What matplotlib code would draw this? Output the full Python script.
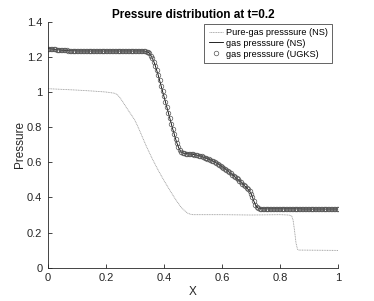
import numpy as np
import matplotlib
matplotlib.use('Agg')
import matplotlib.pyplot as plt

plt.rcParams['font.family'] = ['Liberation Sans', 'DejaVu Sans']

# gas pressure on the cell grid (NS line and UGKS markers share it)
x_gas = np.linspace(0, 1, 201)
p_gas = [
    1.250, 1.249, 1.248, 1.247, 1.246, 1.245, 1.244, 1.243, 1.242, 1.241,
    1.240, 1.240, 1.239, 1.239, 1.238, 1.238, 1.237, 1.237, 1.237, 1.237,
    1.236,
    1.236, 1.236, 1.236, 1.236, 1.236, 1.236, 1.236, 1.236, 1.236, 1.236,
    1.236, 1.236, 1.236, 1.236, 1.236, 1.236, 1.236, 1.236, 1.236, 1.236,
    1.236, 1.236, 1.236, 1.236, 1.236, 1.236, 1.236, 1.236, 1.236, 1.236,
    1.236, 1.236, 1.236, 1.236, 1.236, 1.236, 1.236, 1.236, 1.236, 1.236,
    1.236, 1.236, 1.236, 1.236, 1.236, 1.236,
    1.235, 1.233, 1.229, 1.222, 1.210, 1.195, 1.176, 1.153, 1.127, 1.099,
    1.069, 1.039, 1.008, 0.977, 0.946, 0.915, 0.884, 0.853, 0.822, 0.792,
    0.763, 0.735, 0.709, 0.687, 0.670, 0.659, 0.654, 0.652,
    0.651, 0.650, 0.649, 0.648, 0.647, 0.646, 0.645, 0.643, 0.641, 0.639,
    0.637, 0.634, 0.631, 0.628, 0.625, 0.622, 0.619, 0.615, 0.611, 0.607,
    0.603, 0.598, 0.593, 0.588, 0.582, 0.576, 0.570, 0.564, 0.558, 0.552,
    0.545, 0.538, 0.531, 0.524, 0.517, 0.510, 0.503, 0.495, 0.487, 0.479,
    0.471, 0.463, 0.455, 0.446, 0.436, 0.422, 0.402, 0.378, 0.358, 0.345,
    0.339, 0.337, 0.336, 0.336,
    0.335, 0.335, 0.335, 0.335, 0.335, 0.335, 0.335, 0.335, 0.335, 0.335,
    0.335, 0.335, 0.335, 0.335, 0.335, 0.335, 0.335, 0.335, 0.335, 0.335,
    0.335, 0.335, 0.335, 0.335, 0.335, 0.335, 0.334, 0.334, 0.334, 0.334,
    0.334, 0.334, 0.334, 0.334, 0.334, 0.334, 0.334, 0.334, 0.334, 0.334,
    0.334, 0.334, 0.334, 0.334, 0.334, 0.334, 0.334, 0.334, 0.334, 0.334,
    0.334, 0.334,
]

# pure-gas pressure (NS)
x_pure = [0.0, 0.05, 0.10, 0.15, 0.20, 0.23, 0.24, 0.25, 0.26, 0.27,
          0.28, 0.29, 0.30, 0.31, 0.32, 0.33, 0.34, 0.36, 0.38, 0.40,
          0.42, 0.44, 0.46, 0.48, 0.49, 0.50, 0.60, 0.70, 0.80, 0.83,
          0.84, 0.845, 0.85, 0.855, 0.86, 0.865, 1.0]
p_pure = [1.021, 1.017, 1.013, 1.008, 1.002, 0.995, 0.986, 0.966, 0.941, 0.915,
          0.890, 0.866, 0.840, 0.805, 0.767, 0.728, 0.690, 0.620, 0.556, 0.497,
          0.442, 0.389, 0.342, 0.312, 0.305, 0.302, 0.302, 0.300, 0.302, 0.300,
          0.295, 0.270, 0.210, 0.140, 0.105, 0.100, 0.098]

fig = plt.figure(figsize=(3.74, 3.01), dpi=100, facecolor='white')
ax = fig.add_axes([0.128, 0.111, 0.776, 0.815])

ax.plot(x_pure, p_pure, linestyle=(0, (1.2, 0.8)), color='#9a9a9a', lw=0.6,
        label='Pure-gas presssure (NS)')
ax.plot(x_gas, p_gas, '-', color='black', lw=0.6, label='gas presssure (NS)')
ax.plot(x_gas, p_gas, 'o', ms=3.3, mfc='none', mec='#555555', mew=0.5,
        label='gas presssure (UGKS)')

ax.set_xlim(0, 1)
ax.set_ylim(0, 1.4)
ax.set_xticks([0, 0.2, 0.4, 0.6, 0.8, 1])
ax.set_xticklabels(['0', '0.2', '0.4', '0.6', '0.8', '1'])
ax.set_yticks([0, 0.2, 0.4, 0.6, 0.8, 1, 1.2, 1.4])
ax.set_yticklabels(['0', '0.2', '0.4', '0.6', '0.8', '1', '1.2', '1.4'])

# matlab-ish axes: box off, inward ticks
for side in ['top', 'right']:
    ax.spines[side].set_visible(False)
for side in ['left', 'bottom']:
    ax.spines[side].set_color('#262626')
    ax.spines[side].set_linewidth(0.6)
ax.tick_params(direction='in', length=3, width=0.6, colors='#262626',
               labelsize=8, pad=4)

ax.set_xlabel('X', fontsize=8.5, color='#262626', labelpad=2)
ax.set_ylabel('Pressure', fontsize=8.5, color='#262626', labelpad=0.5)
ax.set_title('Pressure distribution at t=0.2', fontsize=8.5, fontweight='bold',
             color='black', pad=3)

leg = ax.legend(loc='upper right', bbox_to_anchor=(0.979, 0.994), fontsize=6.6,
                fancybox=False, framealpha=1, edgecolor='#262626',
                handlelength=1.6, handletextpad=0.3, borderpad=0.45,
                labelspacing=0.2, borderaxespad=0)
leg.get_frame().set_linewidth(0.5)

fig.savefig('out.png', dpi=100)
